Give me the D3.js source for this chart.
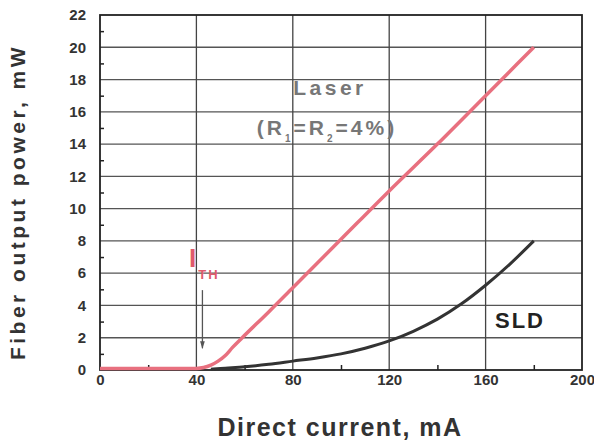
<!DOCTYPE html>
<html>
<head>
<meta charset="utf-8">
<script src="https://cdn.jsdelivr.net/npm/d3@7"></script>
<style>
  body { margin: 0; background: #fff; }
  svg { font-family: "Liberation Sans", Arial, sans-serif; }
</style>
</head>
<body>
<svg id="chart" width="594" height="443"></svg>
<script>
// values
const laserCurrent = [0, 20, 40, 43, 46, 49, 52, 55, 59, 70, 80, 100, 120, 140, 160, 180];
const laserPower = [0.1, 0.1, 0.1, 0.15, 0.3, 0.55, 0.9, 1.4, 2.0, 3.6, 5.1, 8.1, 11.1, 14.0, 17.0, 20.0];
const sldCurrent = [46, 50, 60, 70, 80, 90, 100, 110, 120, 130, 140, 150, 160, 170, 180];
const sldPower = [0.05, 0.1, 0.2, 0.35, 0.55, 0.75, 1.0, 1.35, 1.8, 2.4, 3.15, 4.1, 5.25, 6.55, 8.0];
const xTicks = [0, 40, 80, 120, 160, 200];
const yTicks = [0, 2, 4, 6, 8, 10, 12, 14, 16, 18, 20, 22];

const svg = d3.select("#chart");
const x = d3.scaleLinear().domain([0, 200]).range([100, 582]);
const y = d3.scaleLinear().domain([0, 22]).range([370, 15]);

// grid
svg.append("g")
    .selectAll("line")
    .data(yTicks.slice(1, -1))
    .enter()
    .append("line")
    .attr("x1", x(0)).attr("x2", x(200))
    .attr("y1", d => y(d)).attr("y2", d => y(d))
    .attr("stroke", "#555").attr("stroke-width", 1.3);
svg.append("g")
    .selectAll("line")
    .data(xTicks.slice(1, -1))
    .enter()
    .append("line")
    .attr("y1", y(0)).attr("y2", y(22))
    .attr("x1", d => x(d)).attr("x2", d => x(d))
    .attr("stroke", "#444").attr("stroke-width", 1.3);

// frame
svg.append("rect")
    .attr("x", x(0)).attr("y", y(22))
    .attr("width", x(200) - x(0)).attr("height", y(0) - y(22))
    .attr("fill", "none").attr("stroke", "#222").attr("stroke-width", 1.8);

// axes
svg.append("g")
    .attr("transform", `translate(0,${y(0)})`)
    .call(d3.axisBottom(x).tickValues(xTicks).tickSize(0).tickPadding(4));
svg.append("g")
    .attr("transform", `translate(0,${y(0)})`)
    .call(d3.axisTop(x).tickValues(d3.range(20, 200, 40)).tickSize(5).tickFormat(""));
svg.append("g")
    .attr("transform", `translate(${x(0)},0)`)
    .call(d3.axisLeft(y).tickValues(yTicks).tickSize(0).tickPadding(14));
svg.append("g")
    .attr("transform", `translate(${x(0)},0)`)
    .call(d3.axisRight(y).tickValues(d3.range(1, 22, 2)).tickSize(4).tickFormat(""));

svg.selectAll(".domain").remove();
svg.selectAll(".tick line").attr("stroke", "#222").attr("stroke-width", 1.5);
svg.selectAll(".tick text")
    .attr("fill", "#333")
    .style("font-size", "15px")
    .style("font-weight", "bold");

// curves
const line = d3.line().x(d => x(d[0])).y(d => y(d[1])).curve(d3.curveMonotoneX);
svg.append("path")
    .datum(sldCurrent.map((c, i) => [c, sldPower[i]]))
    .attr("d", line)
    .attr("fill", "none").attr("stroke", "#333").attr("stroke-width", 3);
svg.append("path")
    .datum(laserCurrent.map((c, i) => [c, laserPower[i]]))
    .attr("d", line)
    .attr("fill", "none").attr("stroke", "#e8707f").attr("stroke-width", 3.5);

// annotations
svg.append("text")
    .attr("x", 330).attr("y", 95)
    .attr("text-anchor", "middle")
    .attr("fill", "#777")
    .style("font-size", "21px").style("font-weight", "bold")
    .style("letter-spacing", "3.5px")
    .text("Laser");
const rText = svg.append("text")
    .attr("x", 327).attr("y", 135)
    .attr("text-anchor", "middle")
    .attr("fill", "#777")
    .style("font-size", "21px").style("font-weight", "bold")
    .style("letter-spacing", "3px");
rText.append("tspan").text("(R");
rText.append("tspan").attr("dy", 7).style("font-size", "10px").text("1");
rText.append("tspan").attr("dy", -7).text("=R");
rText.append("tspan").attr("dy", 7).style("font-size", "10px").text("2");
rText.append("tspan").attr("dy", -7).text("=4%)");

const ith = svg.append("text")
    .attr("x", 189).attr("y", 267)
    .attr("fill", "#e05a6c")
    .style("font-size", "26px").style("font-weight", "bold");
ith.append("tspan").text("I");
ith.append("tspan").attr("dy", 12).attr("dx", 2)
    .style("font-size", "13px").style("letter-spacing", "2px").text("TH");

svg.append("defs").append("marker")
    .attr("id", "arrow")
    .attr("viewBox", "0 0 10 10")
    .attr("refX", 9).attr("refY", 5)
    .attr("markerWidth", 6).attr("markerHeight", 6)
    .attr("orient", "auto")
    .append("path")
    .attr("d", "M0,2 L10,5 L0,8 Z")
    .attr("fill", "#555");
svg.append("line")
    .attr("x1", x(42.5)).attr("x2", x(42.5))
    .attr("y1", y(4.95)).attr("y2", y(1.35))
    .attr("stroke", "#555").attr("stroke-width", 1.3)
    .attr("marker-end", "url(#arrow)");

svg.append("text")
    .attr("x", 495).attr("y", 328)
    .attr("fill", "#222")
    .style("font-size", "22px").style("font-weight", "bold")
    .style("letter-spacing", "2px")
    .text("SLD");

// axis titles
svg.append("text")
    .attr("x", 340).attr("y", 436)
    .attr("text-anchor", "middle")
    .attr("fill", "#333")
    .style("font-size", "25px").style("font-weight", "bold")
    .style("letter-spacing", "1.5px")
    .text("Direct current, mA");
svg.append("text")
    .attr("transform", "translate(25,202) rotate(-90)")
    .attr("text-anchor", "middle")
    .attr("fill", "#333")
    .style("font-size", "21px").style("font-weight", "bold")
    .style("letter-spacing", "3.5px")
    .text("Fiber output power, mW");
</script>
</body>
</html>
